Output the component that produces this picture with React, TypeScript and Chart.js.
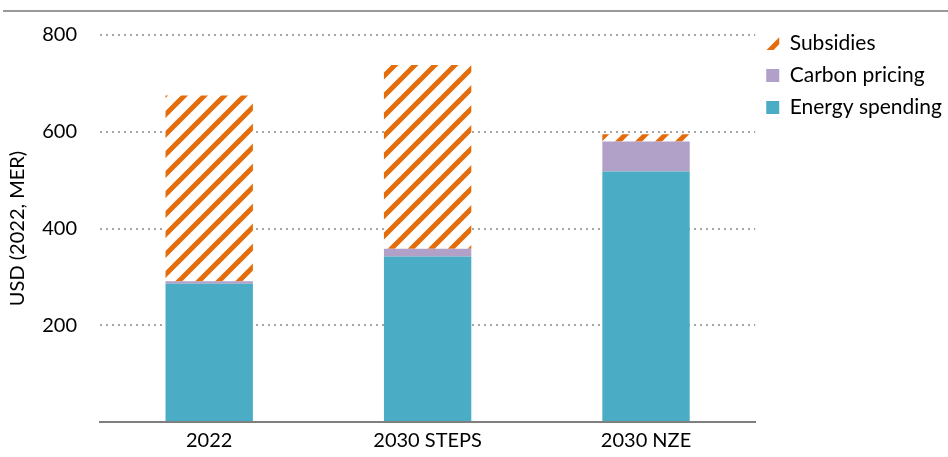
import React, { useEffect, useRef } from "react";
import { Chart, registerables } from "chart.js";

Chart.register(...registerables);

const categories = ["2022", "2030 STEPS", "2030 NZE"];
const energySpending = [286, 342, 518];
const carbonPricing = [5, 16, 62];
const subsidies = [384, 380, 15];
const yTicks = [0, 200, 400, 600, 800];

const FONT = "Lato, 'Open Sans', sans-serif";

function makeStripes(): CanvasPattern | string {
  const s = 20;
  const c = document.createElement("canvas");
  c.width = s;
  c.height = s;
  const ctx = c.getContext("2d");
  if (!ctx) return "#E46C0A";
  ctx.fillStyle = "#ffffff";
  ctx.fillRect(0, 0, s, s);
  ctx.strokeStyle = "#E46C0A";
  ctx.lineWidth = 5;
  ctx.lineCap = "butt";
  const seg = (x1: number, y1: number, x2: number, y2: number) => {
    ctx.beginPath();
    ctx.moveTo(x1, y1);
    ctx.lineTo(x2, y2);
    ctx.stroke();
  };
  seg(-2, s + 2, s + 2, -2);
  seg(-s / 2 - 2, s / 2 + 2, s / 2 + 2, -s / 2 - 2);
  seg(s / 2 - 2, s * 1.5 + 2, s * 1.5 + 2, s / 2 - 2);
  const p = ctx.createPattern(c, "repeat");
  return p || "#E46C0A";
}

const topLine = {
  id: "topLine",
  beforeDraw(chart: any) {
    const ctx = chart.ctx;
    ctx.save();
    ctx.strokeStyle = "#999999";
    ctx.lineWidth = 2;
    ctx.beginPath();
    ctx.moveTo(3, 11);
    ctx.lineTo(chart.width, 11);
    ctx.stroke();
    ctx.restore();
  },
};

export default function App() {
  const ref = useRef<HTMLCanvasElement | null>(null);
  useEffect(() => {
    if (!ref.current) return;
    const stripes = makeStripes();
    const chart = new Chart(ref.current, {
      type: "bar",
      data: {
        labels: categories,
        datasets: [
          {
            label: "Energy spending",
            data: energySpending,
            backgroundColor: "#4BACC6",
            borderWidth: 0,
          },
          {
            label: "Carbon pricing",
            data: carbonPricing,
            backgroundColor: "#B1A0C7",
            borderWidth: 0,
          },
          {
            label: "Subsidies",
            data: subsidies,
            backgroundColor: stripes as any,
            borderWidth: 0,
          },
        ],
      },
      options: {
        animation: false,
        responsive: false,
        maintainAspectRatio: false,
        layout: { padding: { top: 22, right: -4, bottom: 0, left: 0 } },
        datasets: {
          bar: { categoryPercentage: 1, barPercentage: 0.4 },
        },
        plugins: {
          tooltip: { enabled: false },
          legend: {
            position: "right",
            align: "start",
            reverse: true,
            labels: {
              font: { family: FONT, size: 21 },
              color: "#000000",
              boxWidth: 13,
              boxHeight: 13,
              padding: 11,
            },
          },
        },
        scales: {
          x: {
            stacked: true,
            grid: { display: false, drawTicks: false },
            border: { display: true, color: "#7F7F7F", width: 2 },
            ticks: {
              font: { family: FONT, size: 20 },
              color: "#000000",
              padding: 7,
            },
            afterFit: (s: any) => {
              s.height = 34;
            },
          },
          y: {
            stacked: true,
            min: yTicks[0],
            max: yTicks[yTicks.length - 1],
            afterBuildTicks: (axis: any) => {
              axis.ticks = yTicks.map((v) => ({ value: v }));
            },
            afterFit: (s: any) => {
              s.width = 100;
            },
            border: { display: false, dash: [2, 4] },
            grid: {
              drawTicks: false,
              color: (c: any) => (c.tick && c.tick.value === 0 ? "rgba(0,0,0,0)" : "#A6A6A6"),
              lineWidth: 2,
            },
            ticks: {
              font: { family: FONT, size: 20 },
              color: "#000000",
              padding: 23,
              callback: (v: any) => (v === 0 ? "" : String(v)),
            },
            title: {
              display: true,
              text: "USD (2022, MER)",
              font: { family: FONT, size: 20 },
              color: "#000000",
              padding: { top: 6, bottom: 0 },
            },
          },
        },
      },
      plugins: [topLine],
    });
    return () => chart.destroy();
  }, []);
  return (
    <div style={{ position: "fixed", left: 0, top: 0, width: 948, height: 457, background: "#fff" }}>
      <canvas ref={ref} width={948} height={457} style={{ width: 948, height: 457 }} />
    </div>
  );
}
